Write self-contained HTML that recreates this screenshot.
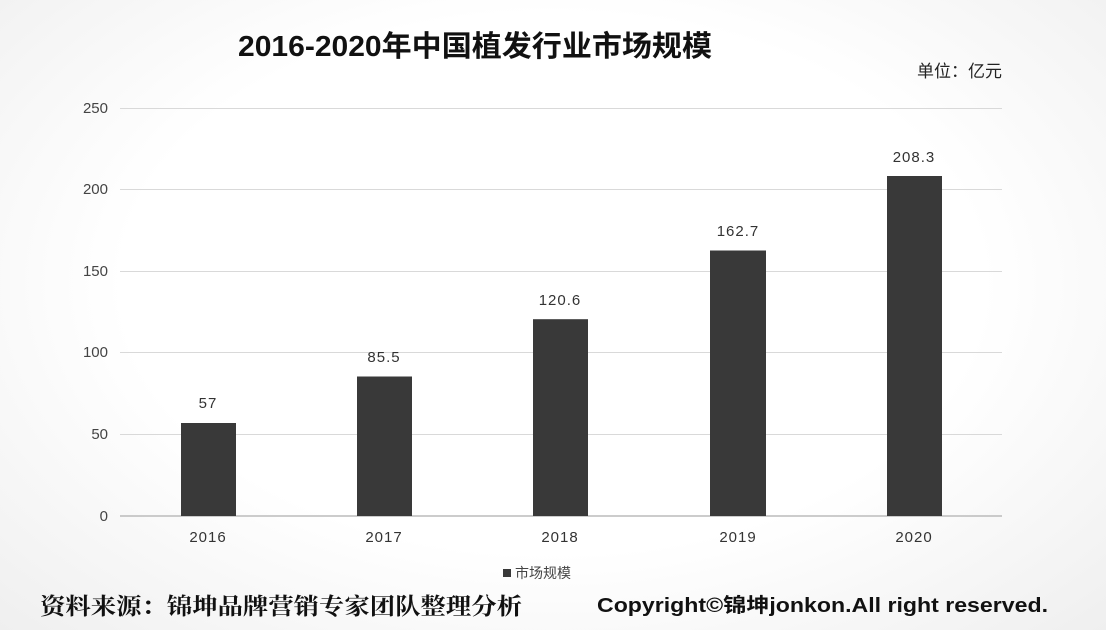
<!DOCTYPE html>
<html><head><meta charset="utf-8"><style>
body{margin:0;width:1106px;height:630px;overflow:hidden;background:radial-gradient(ellipse at 50% 45%,#ffffff 55%,#efefef 100%);font-family:"Liberation Sans","Noto Sans CJK SC",sans-serif}
</style></head><body>
<svg width="1106" height="630" xmlns="http://www.w3.org/2000/svg" style="position:absolute;left:0;top:0">
<text x="238" y="56" textLength="474" lengthAdjust="spacingAndGlyphs" font-size="29" font-weight="bold" fill="#111" font-family="Liberation Sans,Noto Sans CJK SC,sans-serif">2016-2020年中国植发行业市场规模</text>
<text x="1002" y="77" text-anchor="end" font-size="17" fill="#222" font-family="Liberation Sans,Noto Sans CJK SC,sans-serif">单位：亿元</text>
<g stroke="#d9d9d9" stroke-width="1">
<line x1="120" x2="1002" y1="108.5" y2="108.5"/><line x1="120" x2="1002" y1="189.5" y2="189.5"/><line x1="120" x2="1002" y1="271.5" y2="271.5"/><line x1="120" x2="1002" y1="352.5" y2="352.5"/><line x1="120" x2="1002" y1="434.5" y2="434.5"/></g>
<line x1="120" x2="1002" y1="516" y2="516" stroke="#bbb" stroke-width="1.5"/>
<g font-size="15" fill="#444" text-anchor="end" font-family="Liberation Sans,sans-serif">
<text x="108" y="113">250</text><text x="108" y="194">200</text><text x="108" y="276">150</text><text x="108" y="357">100</text><text x="108" y="439">50</text><text x="108" y="521">0</text></g>
<g fill="#393939">
<rect x="181" y="423" width="55" height="93"/><rect x="357" y="376.5" width="55" height="139.5"/><rect x="533" y="319.2" width="55" height="196.8"/><rect x="710" y="250.5" width="56" height="265.5"/><rect x="887" y="176" width="55" height="340"/></g>
<g font-size="15" fill="#333" text-anchor="middle" font-family="Liberation Sans,sans-serif" letter-spacing="1">
<text x="208" y="408">57</text><text x="384" y="362">85.5</text><text x="560" y="305">120.6</text><text x="738" y="236">162.7</text><text x="914" y="162">208.3</text>
<text x="208" y="542">2016</text><text x="384" y="542">2017</text><text x="560" y="542">2018</text><text x="738" y="542">2019</text><text x="914" y="542">2020</text></g>
<rect x="503" y="569" width="8" height="8" fill="#393939"/>
<text x="515" y="578" font-size="14" fill="#444" font-family="Liberation Sans,Noto Sans CJK SC,sans-serif">市场规模</text>
<text x="40" y="614" textLength="482" lengthAdjust="spacingAndGlyphs" font-size="23" font-weight="bold" fill="#111" font-family="Noto Serif CJK SC,serif">资料来源：锦坤品牌营销专家团队整理分析</text>
<text x="597" y="612" textLength="451" lengthAdjust="spacingAndGlyphs" font-size="20" font-weight="bold" fill="#111" font-family="Liberation Sans,Noto Sans CJK SC,sans-serif">Copyright©锦坤jonkon.All right reserved.</text>
</svg>
</body></html>
